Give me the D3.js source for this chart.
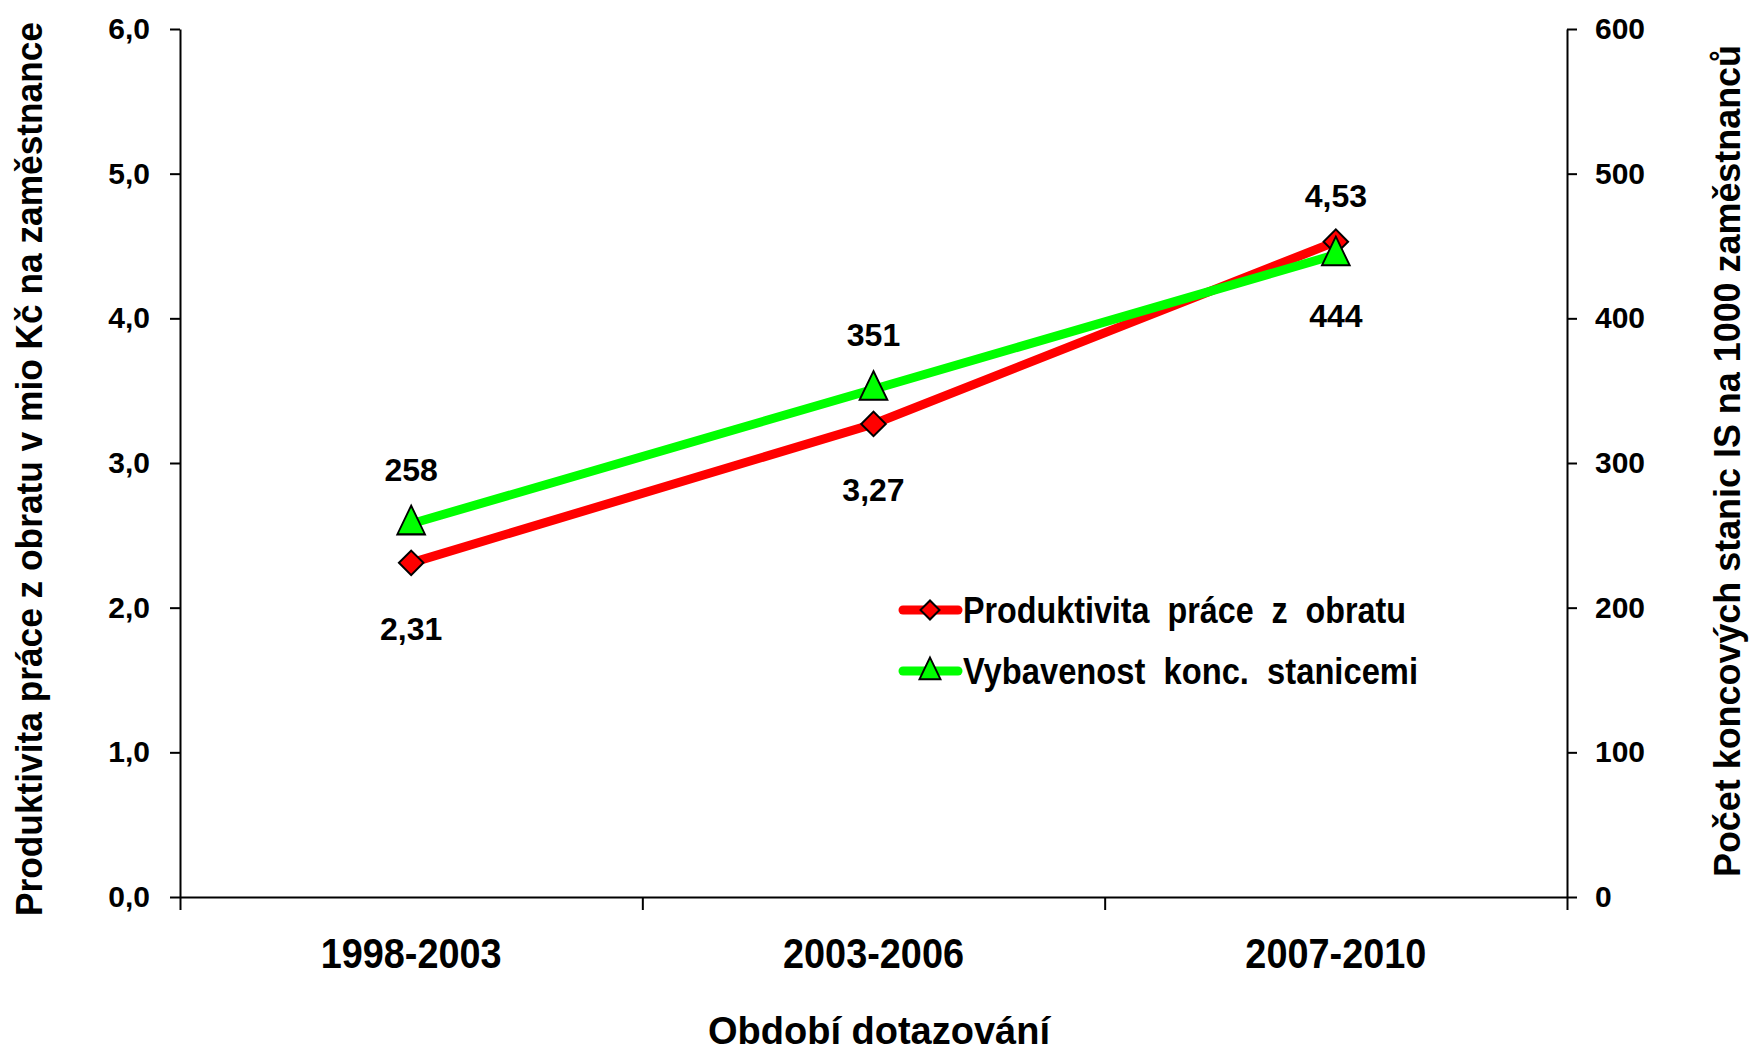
<!DOCTYPE html>
<html>
<head>
<meta charset="utf-8">
<script src="https://cdn.jsdelivr.net/npm/d3@7"></script>
<style>
  body { margin: 0; background: #fff; }
  text { font-family: "Liberation Sans", Arial, sans-serif; font-weight: bold; fill: #000; }
  .axis path, .axis line { stroke: #000; stroke-width: 2; }
</style>
</head>
<body>
<div id="chart"></div>
<script>
// data
var periods = ["1998-2003", "2003-2006", "2007-2010"];
var productivity = [2.31, 3.27, 4.53];      // mio Kč na zaměstnance (left axis)
var workstations = [258, 351, 444];         // stanic na 1000 zaměstnanců (right axis)
var leftTicks = [0, 1, 2, 3, 4, 5, 6];
var rightTicks = [0, 100, 200, 300, 400, 500, 600];
var seriesNames = ["Produktivita  práce  z  obratu", "Vybavenost  konc.  stanicemi"];

var svgWidth = 1752, svgHeight = 1051;
var margin = {top: 29, right: 185, bottom: 154, left: 180};
var width = svgWidth - margin.left - margin.right;
var height = svgHeight - margin.top - margin.bottom;

var svg = d3.select("#chart").append("svg")
  .attr("width", svgWidth)
  .attr("height", svgHeight);

var g = svg.append("g")
  .attr("transform", "translate(" + margin.left + "," + margin.top + ")");

var xScale = d3.scaleBand().domain(periods).range([0, width]);
var xEdges = d3.scaleLinear().domain([0, periods.length]).range([0, width]);
var yLeft = d3.scaleLinear().domain([0, 6]).range([height, 0]);
var yRight = d3.scaleLinear().domain([0, 600]).range([height, 0]);

var fmt = function(d) { return d3.format(".1f")(d).replace(".", ","); };

// axes
var gLeft = g.append("g").attr("class", "axis")
  .call(d3.axisLeft(yLeft).tickValues(leftTicks).tickSize(10).tickSizeOuter(0).tickPadding(20).tickFormat(fmt));
var gRight = g.append("g").attr("class", "axis")
  .attr("transform", "translate(" + width + ",0)")
  .call(d3.axisRight(yRight).tickValues(rightTicks).tickSize(10).tickSizeOuter(0).tickPadding(18));
var gX = g.append("g").attr("class", "axis")
  .attr("transform", "translate(0," + height + ")")
  .call(d3.axisBottom(xEdges).tickValues(d3.range(periods.length + 1)).tickSize(13).tickSizeOuter(0).tickFormat(""));
var gXLabels = g.append("g")
  .attr("transform", "translate(0," + height + ")")
  .call(d3.axisBottom(xScale).tickSize(0).tickPadding(40));
gXLabels.select(".domain").remove();

gLeft.selectAll("text").style("font-size", "30px").attr("font-family", null);
gRight.selectAll("text").style("font-size", "30px").attr("font-family", null);
gXLabels.selectAll("text").style("font-size", "43px")
  .attr("textLength", 181).attr("lengthAdjust", "spacingAndGlyphs");

// axis titles
svg.append("text")
  .attr("transform", "translate(42,469) rotate(-90)")
  .attr("text-anchor", "middle")
  .style("font-size", "36px")
  .attr("textLength", 894).attr("lengthAdjust", "spacingAndGlyphs")
  .text("Produktivita práce z obratu v mio Kč na zaměstnance");

svg.append("text")
  .attr("transform", "translate(1740,461) rotate(-90)")
  .attr("text-anchor", "middle")
  .style("font-size", "36px")
  .attr("textLength", 832).attr("lengthAdjust", "spacingAndGlyphs")
  .text("Počet koncových stanic IS na 1000 zaměstnanců");

svg.append("text")
  .attr("x", 879)
  .attr("y", 1044)
  .attr("text-anchor", "middle")
  .style("font-size", "39px")
  .attr("textLength", 342).attr("lengthAdjust", "spacingAndGlyphs")
  .text("Období dotazování");

// lines
var cx = function(d, i) { return xScale(periods[i]) + xScale.bandwidth() / 2; };

var redLine = d3.line().x(cx).y(function(d) { return yLeft(d); });
var greenLine = d3.line().x(cx).y(function(d) { return yRight(d); });

g.append("path").datum(productivity)
  .attr("d", redLine).attr("fill", "none").attr("stroke", "#ff0000").attr("stroke-width", 9);
g.append("path").datum(workstations)
  .attr("d", greenLine).attr("fill", "none").attr("stroke", "#00ff00").attr("stroke-width", 9);

var diamond = d3.symbol().type(d3.symbolSquare).size(300);
var triangle = d3.symbol().type(d3.symbolTriangle).size(330);

g.selectAll(".dia").data(productivity).enter().append("path")
  .attr("d", diamond)
  .attr("transform", function(d, i) { return "translate(" + cx(d, i) + "," + yLeft(d) + ") rotate(45)"; })
  .attr("fill", "#ff0000").attr("stroke", "#000").attr("stroke-width", 2);

g.selectAll(".tri").data(workstations).enter().append("path")
  .attr("d", triangle)
  .attr("transform", function(d, i) { return "translate(" + cx(d, i) + "," + (yRight(d) + 1) + ") scale(1,1.2)"; })
  .attr("fill", "#00ff00").attr("stroke", "#000").attr("stroke-width", 1.8);

// data labels
var redAbove = [false, false, true];
g.selectAll(".lblR").data(productivity).enter().append("text")
  .attr("x", cx)
  .attr("y", function(d, i) { return yLeft(d) + (redAbove[i] ? -35 : 77); })
  .attr("text-anchor", "middle")
  .style("font-size", "32px")
  .text(function(d) { return d3.format(".2f")(d).replace(".", ","); });

var greenAbove = [true, true, false];
g.selectAll(".lblG").data(workstations).enter().append("text")
  .attr("x", cx)
  .attr("y", function(d, i) { return yRight(d) + (greenAbove[i] ? -43 : 72); })
  .attr("text-anchor", "middle")
  .style("font-size", "32px")
  .text(function(d) { return d; });

// legend
var legend = svg.append("g").attr("transform", "translate(903,610)");
var legendColors = ["#ff0000", "#00ff00"];
var legendWidths = [443, 455];
seriesNames.forEach(function(name, i) {
  var row = legend.append("g").attr("transform", "translate(0," + (i * 61) + ")");
  row.append("line").attr("x1", 0).attr("x2", 55).attr("y1", 0).attr("y2", 0)
    .attr("stroke", legendColors[i]).attr("stroke-width", 9).attr("stroke-linecap", "round");
  if (i === 0) {
    row.append("path").attr("d", d3.symbol().type(d3.symbolSquare).size(180))
      .attr("transform", "translate(27,0) rotate(45)")
      .attr("fill", "#ff0000").attr("stroke", "#000").attr("stroke-width", 2);
  } else {
    row.append("path").attr("d", d3.symbol().type(d3.symbolTriangle).size(190))
      .attr("transform", "translate(27,1) scale(1,1.2)")
      .attr("fill", "#00ff00").attr("stroke", "#000").attr("stroke-width", 1.8);
  }
  row.append("text").attr("x", 60).attr("y", 13)
    .style("font-size", "36px")
    .style("white-space", "pre")
    .attr("textLength", legendWidths[i]).attr("lengthAdjust", "spacingAndGlyphs")
    .text(name);
});
</script>
</body>
</html>
